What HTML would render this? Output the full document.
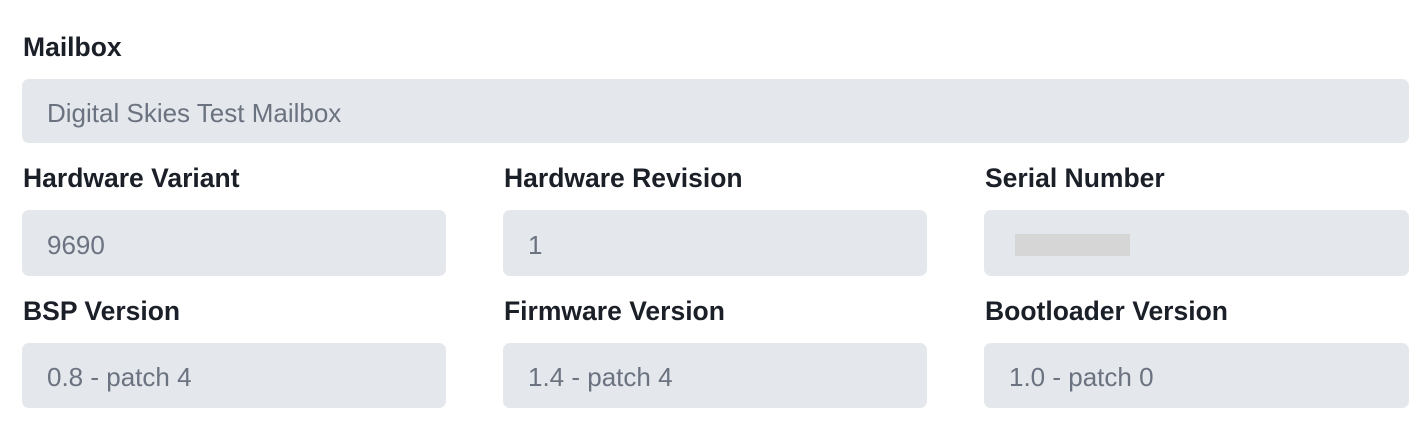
<!DOCTYPE html>
<html><head><style>
body{margin:0;width:1428px;height:425px;background:#fff;position:relative;font-family:"Liberation Sans",sans-serif;overflow:hidden}
.l{position:absolute;font-weight:bold;font-size:26.5px;color:#1b1f27;line-height:1}
.b{position:absolute;background:#e4e7eb;border-radius:7px;color:#6b7280;font-size:26px;line-height:1;box-sizing:border-box;padding-left:25px;padding-top:3px;display:flex;align-items:center}
</style></head><body>
<div class="l" style="left:23px;top:34px">Mailbox</div>
<div class="b" style="left:22px;top:79px;width:1387px;height:64px">Digital Skies Test Mailbox</div>

<div class="l" style="left:23px;top:165px">Hardware Variant</div>
<div class="l" style="left:504px;top:165px">Hardware Revision</div>
<div class="l" style="left:985px;top:165px">Serial Number</div>
<div class="b" style="left:22px;top:210px;width:424px;height:66px">9690</div>
<div class="b" style="left:503px;top:210px;width:424px;height:66px">1</div>
<div class="b" style="left:984px;top:210px;width:425px;height:66px"></div>
<div style="position:absolute;left:1015px;top:234px;width:115px;height:22px;background:#d6d6d6"></div>

<div class="l" style="left:23px;top:298px">BSP Version</div>
<div class="l" style="left:504px;top:298px">Firmware Version</div>
<div class="l" style="left:985px;top:298px">Bootloader Version</div>
<div class="b" style="left:22px;top:343px;width:424px;height:65px">0.8 - patch 4</div>
<div class="b" style="left:503px;top:343px;width:424px;height:65px">1.4 - patch 4</div>
<div class="b" style="left:984px;top:343px;width:425px;height:65px">1.0 - patch 0</div>
</body></html>
